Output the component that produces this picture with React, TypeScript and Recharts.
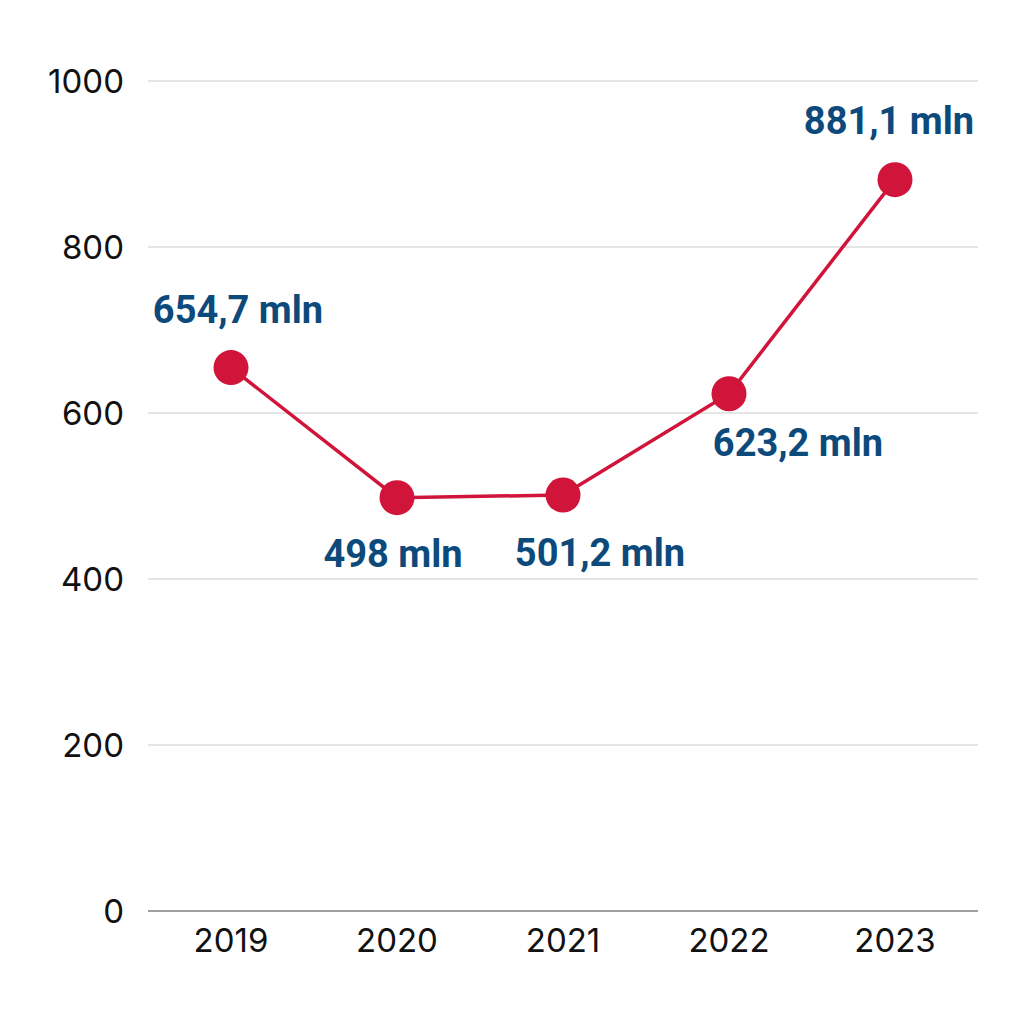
import { LineChart, Line, XAxis, YAxis, CartesianGrid } from 'recharts';

const years = ['2019', '2020', '2021', '2022', '2023'];
const values = [654.7, 498, 501.2, 623.2, 881.1];
const valueLabels = ['654,7 mln', '498 mln', '501,2 mln', '623,2 mln', '881,1 mln'];
const yTicks = [0, 200, 400, 600, 800, 1000];

// label placement around each dot (styling only)
const labelOffsets = [
  { dx: 7, dy: -58 },
  { dx: -4, dy: 56 },
  { dx: 37, dy: 58 },
  { dx: 69, dy: 49 },
  { dx: -6, dy: -59 },
];

const RED = '#d0143a';
const BLUE = '#0d4a7c';

const chartData = years.map((year, i) => ({
  year,
  value: values[i],
  label: valueLabels[i],
}));

function PointLabel(props: any) {
  const { x, y, index } = props;
  const off = labelOffsets[index] || { dx: 0, dy: -40 };
  return (
    <text
      x={x + off.dx}
      y={y + off.dy}
      textAnchor="middle"
      dominantBaseline="central"
      fill={BLUE}
      fontFamily="Roboto, sans-serif"
      fontWeight={700}
      fontSize={38}
    >
      {valueLabels[index]}
    </text>
  );
}

export default function App() {
  return (
    <div style={{ position: 'absolute', left: 0, top: 0, width: 1024, height: 1014, background: '#fff' }}>
      <LineChart
        width={1024}
        height={1014}
        data={chartData}
        margin={{ top: 81, right: 46, bottom: 43, left: 0 }}
      >
        <CartesianGrid vertical={false} stroke="#cccccc" strokeWidth={1} />
        <XAxis
          dataKey="year"
          height={60}
          padding={{ left: 83, right: 83 }}
          tickLine={false}
          axisLine={{ stroke: '#888888', strokeWidth: 1.5 }}
          tickMargin={12}
          tick={{ fill: '#111111', fontSize: 33, fontFamily: 'Inter, sans-serif' }}
        />
        <YAxis
          width={148}
          domain={[0, 1000]}
          ticks={yTicks}
          tickLine={false}
          axisLine={false}
          tickMargin={18}
          tick={{ fill: '#111111', fontSize: 33, fontFamily: 'Inter, sans-serif' }}
        />
        <Line
          type="linear"
          dataKey="value"
          stroke={RED}
          strokeWidth={3.5}
          dot={{ r: 17.5, fill: RED, stroke: RED, strokeWidth: 0 }}
          activeDot={false}
          label={<PointLabel />}
          isAnimationActive={false}
        />
      </LineChart>
    </div>
  );
}
